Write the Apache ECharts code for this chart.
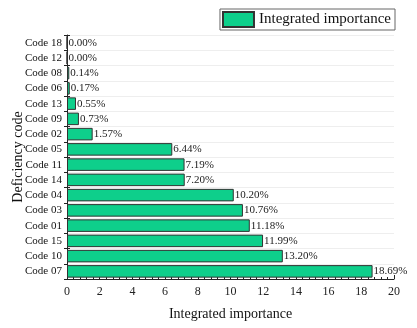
<!DOCTYPE html>
<html>
<head>
<meta charset="utf-8">
<script src="https://cdn.jsdelivr.net/npm/echarts@6/dist/echarts.min.js"></script>
<style>
  html, body { margin: 0; padding: 0; background: #fff; }
  #chart { width: 417px; height: 328px; }
</style>
</head>
<body>
<div id="chart"></div>
<script>
const codes = ['Code 07', 'Code 10', 'Code 15', 'Code 01', 'Code 03', 'Code 04', 'Code 14', 'Code 11',
  'Code 05', 'Code 02', 'Code 09', 'Code 13', 'Code 06', 'Code 08', 'Code 12', 'Code 18'];
const importance = [18.69, 13.20, 11.99, 11.18, 10.76, 10.20, 7.20, 7.19, 6.44, 1.57, 0.73, 0.55, 0.17, 0.14, 0.00, 0.00];
const xTicks = [0, 20, 2];

const font = 'Liberation Serif, Times New Roman, serif';
const chart = echarts.init(document.getElementById('chart'));

const option = {
  animation: false,
  textStyle: { fontFamily: font },
  legend: {
    data: ['Integrated importance'],
    icon: 'rect',
    right: 22,
    top: 9,
    padding: [2, 4, 2, 2],
    itemGap: 0,
    itemWidth: 31,
    itemHeight: 15,
    borderColor: '#666',
    borderWidth: 1,
    textStyle: { fontFamily: font, fontSize: 15, color: '#111' }
  },
  grid: { left: 67, right: 23, top: 35, bottom: 49, containLabel: false, outerBoundsMode: 'none' },
  xAxis: {
    type: 'value',
    min: xTicks[0],
    max: xTicks[1],
    interval: xTicks[2],
    name: 'Integrated importance',
    nameLocation: 'middle',
    nameGap: 28,
    nameTextStyle: { fontFamily: font, fontSize: 14, color: '#111' },
    axisLine: { show: true, lineStyle: { color: '#222', width: 1 } },
    axisTick: { show: true, inside: true, length: 4, lineStyle: { color: '#222' } },
    minorTick: { show: true, splitNumber: 5, length: 2, lineStyle: { color: '#222' } },
    axisLabel: { fontFamily: font, fontSize: 12, color: '#222', margin: 7 },
    splitLine: { show: false }
  },
  yAxis: [
    {
      type: 'category',
      data: codes,
      name: 'Deficiency code',
      nameLocation: 'middle',
      nameGap: 42,
      nameMoveOverlap: false,
      nameTextStyle: { fontFamily: font, fontSize: 14, color: '#111' },
      axisLine: { show: true, lineStyle: { color: '#222', width: 1 } },
      axisTick: { show: true, length: 3, lineStyle: { color: '#222' } },
      axisLabel: { fontFamily: font, fontSize: 11, color: '#111', margin: 5 },
      splitLine: { show: true, lineStyle: { color: '#eeeeee', width: 1 } }
    },
    {
      type: 'category',
      data: codes,
      position: 'left',
      axisLine: { show: false },
      axisTick: { show: true, inside: true, length: 3, lineStyle: { color: '#222' } },
      axisLabel: { show: false },
      splitLine: { show: false }
    }
  ],
  series: [
    {
      name: 'Integrated importance',
      type: 'bar',
      data: importance,
      barCategoryGap: '18%',
      itemStyle: { color: '#0ecf8b', borderColor: '#333', borderWidth: 1 },
      label: {
        show: true,
        position: 'right',
        distance: 1,
        fontFamily: font,
        fontSize: 11,
        color: '#222',
        formatter: p => p.value.toFixed(2) + '%'
      }
    }
  ]
};

chart.setOption(option);
</script>
</body>
</html>
